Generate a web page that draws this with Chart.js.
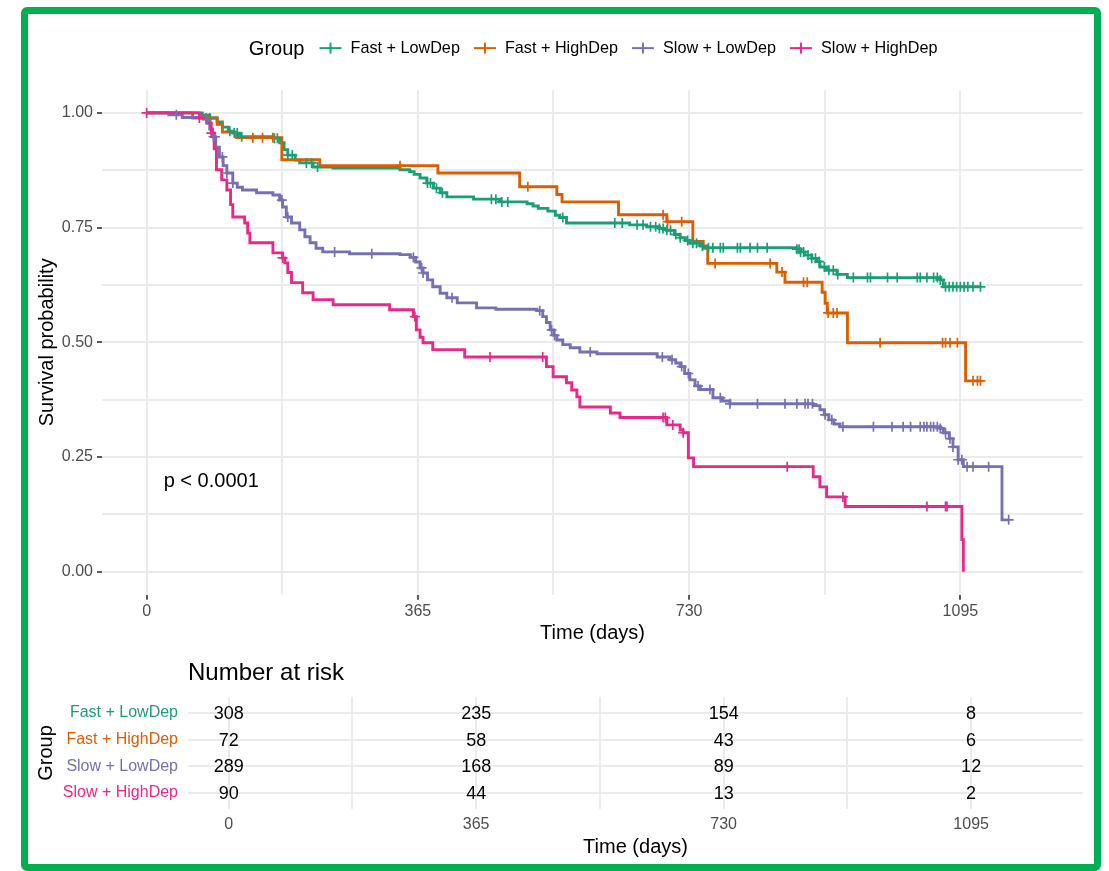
<!DOCTYPE html>
<html>
<head>
<meta charset="utf-8">
<script src="https://cdn.jsdelivr.net/npm/chart.js@4.4.1/dist/chart.umd.min.js"></script>
<style>
html,body{margin:0;padding:0;background:#fff;overflow:hidden;width:1109px;height:871px;}
#frame{position:absolute;left:21px;top:7px;width:1080px;height:864px;box-sizing:border-box;border:7px solid #00B050;border-radius:6px;pointer-events:none;z-index:5;}
#km{position:absolute;left:0;top:0;}
#risk{position:absolute;left:0;top:650px;}
</style>
</head>
<body>
<div id="frame"></div>
<canvas id="km" width="1109" height="650" style="width:1109px;height:650px"></canvas>
<canvas id="risk" width="1109" height="221" style="width:1109px;height:221px"></canvas>
<script>
// ---------------- DATA ----------------
const groups = ['Fast + LowDep', 'Fast + HighDep', 'Slow + LowDep', 'Slow + HighDep'];

const fastLowTime = [0, 75, 85, 95, 102, 110, 116, 125, 170, 179, 185, 190, 200, 206, 224, 251, 341, 354, 360, 368, 377, 386, 395, 404, 440, 475, 512, 520, 527, 540, 550, 556, 565, 650, 673, 690, 700, 710, 718, 725, 731, 745, 754, 875, 880, 886, 895, 902, 906, 915, 929, 943, 1068, 1072, 1122];
const fastLowSurv = [1, 0.995, 0.989, 0.98, 0.969, 0.96, 0.956, 0.948, 0.945, 0.935, 0.92, 0.908, 0.897, 0.891, 0.882, 0.88, 0.876, 0.872, 0.866, 0.858, 0.847, 0.836, 0.826, 0.817, 0.812, 0.806, 0.802, 0.797, 0.792, 0.786, 0.777, 0.772, 0.76, 0.756, 0.752, 0.748, 0.744, 0.735, 0.728, 0.722, 0.716, 0.71, 0.706, 0.703, 0.697, 0.69, 0.683, 0.676, 0.664, 0.657, 0.648, 0.641, 0.636, 0.621, 0.621];
const fastLowCensor = [85, 112, 118, 122, 128, 172, 176, 190, 196, 215, 222, 230, 378, 382, 390, 398, 464, 470, 478, 486, 560, 630, 640, 660, 668, 678, 685, 690, 695, 700, 705, 712, 718, 728, 735, 740, 748, 756, 762, 772, 776, 795, 799, 812, 822, 835, 875, 878, 880, 884, 890, 895, 900, 905, 912, 918, 924, 930, 951, 970, 974, 997, 1010, 1037, 1041, 1050, 1059, 1064, 1068, 1075, 1080, 1085, 1090, 1095, 1100, 1105, 1112, 1122];

const fastHighTime = [0, 62, 95, 102, 121, 182, 233, 392, 502, 552, 559, 635, 700, 735, 749, 755, 848, 859, 909, 913, 916, 943, 1102, 1122];
const fastHighSurv = [1, 0.989, 0.975, 0.958, 0.946, 0.898, 0.885, 0.869, 0.839, 0.822, 0.806, 0.778, 0.763, 0.72, 0.705, 0.672, 0.653, 0.631, 0.609, 0.585, 0.564, 0.499, 0.416, 0.416];
const fastHighCensor = [80, 143, 156, 170, 341, 513, 695, 701, 720, 765, 839, 855, 884, 889, 917, 924, 929, 987, 1071, 1075, 1081, 1091, 1112, 1118, 1122];

const slowLowTime = [0, 30, 48, 81, 85, 89, 93, 98, 103, 108, 116, 122, 129, 148, 170, 179, 183, 188, 195, 206, 213, 220, 228, 237, 273, 341, 355, 362, 368, 372, 378, 385, 395, 404, 418, 444, 470, 525, 533, 538, 543, 548, 552, 560, 570, 583, 606, 687, 704, 712, 718, 724, 731, 738, 745, 762, 775, 785, 897, 906, 912, 918, 925, 933, 1068, 1072, 1080, 1085, 1092, 1099, 1151, 1160];
const slowLowSurv = [1, 0.996, 0.99, 0.985, 0.965, 0.948, 0.925, 0.904, 0.885, 0.869, 0.847, 0.838, 0.832, 0.826, 0.821, 0.81, 0.795, 0.773, 0.76, 0.745, 0.73, 0.717, 0.705, 0.697, 0.693, 0.691, 0.685, 0.675, 0.662, 0.651, 0.636, 0.621, 0.607, 0.597, 0.586, 0.575, 0.572, 0.569, 0.556, 0.543, 0.527, 0.515, 0.505, 0.495, 0.488, 0.479, 0.475, 0.468, 0.462, 0.455, 0.447, 0.432, 0.418, 0.405, 0.397, 0.379, 0.372, 0.366, 0.362, 0.353, 0.342, 0.331, 0.322, 0.316, 0.312, 0.303, 0.29, 0.272, 0.244, 0.229, 0.113, 0.113];
const slowLowCensor = [40, 81, 90, 92, 102, 108, 116, 182, 190, 253, 303, 359, 370, 372, 411, 529, 545, 549, 597, 694, 707, 720, 729, 742, 758, 772, 785, 822, 859, 875, 886, 890, 896, 913, 922, 937, 978, 1003, 1018, 1028, 1041, 1046, 1050, 1055, 1059, 1064, 1068, 1075, 1081, 1085, 1092, 1097, 1104, 1112, 1133, 1160];

const slowHighTime = [0, 71, 81, 87, 91, 94, 101, 108, 113, 116, 132, 136, 139, 170, 183, 186, 190, 195, 210, 224, 251, 327, 359, 363, 368, 372, 385, 428, 538, 547, 565, 572, 579, 583, 624, 637, 700, 718, 722, 729, 736, 897, 906, 915, 940, 1097, 1099];
const slowHighSurv = [1, 0.989, 0.978, 0.956, 0.922, 0.876, 0.854, 0.832, 0.8, 0.773, 0.76, 0.738, 0.717, 0.695, 0.684, 0.673, 0.652, 0.63, 0.608, 0.593, 0.582, 0.571, 0.556, 0.527, 0.511, 0.499, 0.484, 0.468, 0.447, 0.425, 0.412, 0.396, 0.381, 0.359, 0.346, 0.336, 0.32, 0.309, 0.303, 0.248, 0.229, 0.207, 0.185, 0.163, 0.142, 0.07, 0];
const slowHighCensor = [0, 71, 87, 183, 361, 462, 533, 695, 698, 708, 722, 862, 937, 1050, 1075, 1077];

const riskTimes = [0, 365, 730, 1095];
const riskFastLow = [308, 235, 154, 8];
const riskFastHigh = [72, 58, 43, 6];
const riskSlowLow = [289, 168, 89, 12];
const riskSlowHigh = [90, 44, 13, 2];

const xGridTicks = [0, 182.5, 365, 547.5, 730, 912.5, 1095];
const xMajorTicks = [0, 365, 730, 1095];
const yGridTicks = [0, 0.125, 0.25, 0.375, 0.5, 0.625, 0.75, 0.875, 1];
const yMajorTicks = [0, 0.25, 0.5, 0.75, 1];
const yTickLabels = ['0.00', '0.25', '0.50', '0.75', '1.00'];
const pValueText = 'p < 0.0001';

// ---------------- STYLE ----------------
const groupColors = ['#1B9E77', '#D95F02', '#7570B3', '#E7298A'];
const FONT = "'Liberation Sans', Arial, Helvetica, sans-serif";
Chart.defaults.font.family = FONT;
Chart.defaults.color = '#4D4D4D';
const GRID = '#EBEBEB';

const curves = [
  {t: fastLowTime, s: fastLowSurv, c: fastLowCensor},
  {t: fastHighTime, s: fastHighSurv, c: fastHighCensor},
  {t: slowLowTime, s: slowLowSurv, c: slowLowCensor},
  {t: slowHighTime, s: slowHighSurv, c: slowHighCensor}
];
const riskRows = [riskFastLow, riskFastHigh, riskSlowLow, riskSlowHigh];

function survAt(t, s, time) {
  let v = s[0];
  for (let i = 0; i < t.length; i++) { if (t[i] <= time) v = s[i]; else break; }
  return v;
}
function legendIcon(color) {
  const c = document.createElement('canvas');
  c.width = 24; c.height = 14;
  const g = c.getContext('2d');
  g.strokeStyle = color; g.lineWidth = 2;
  g.beginPath(); g.moveTo(1, 7); g.lineTo(23, 7); g.moveTo(12, 1.5); g.lineTo(12, 12.5); g.stroke();
  return c;
}

const datasets = [];
curves.forEach((g, i) => {
  datasets.push({
    type: 'line', label: groups[i], xAxisID: 'x', yAxisID: 'y',
    data: g.t.map((v, k) => ({x: v, y: g.s[k]})),
    stepped: true, borderColor: groupColors[i], borderWidth: 2.9,
    pointRadius: 0, fill: false, tension: 0, order: 10 - i
  });
});
curves.forEach((g, i) => {
  datasets.push({
    type: 'scatter', label: groups[i] + ' (censored)', xAxisID: 'x', yAxisID: 'y',
    data: g.c.map(v => ({x: v, y: survAt(g.t, g.s, v)})),
    showLine: false, pointStyle: 'cross', pointRadius: 5,
    borderColor: groupColors[i], pointBorderColor: groupColors[i],
    pointBorderWidth: 1.7, borderWidth: 1.7, order: 5 - i
  });
});

const LEGEND_CENTER = 628;
const kmPlugin = {
  id: 'kmExtras',
  afterLayout(chart) {
    const lg = chart.legend;
    if (!lg) return;
    const d = LEGEND_CENTER - (lg.left + lg.right) / 2;
    lg.left += d; lg.right += d;
  },
  afterDatasetsDraw(chart) {
    const {ctx, scales: {x, y}} = chart;
    ctx.save();
    ctx.fillStyle = '#000';
    ctx.font = "20px " + FONT;
    ctx.textAlign = 'left'; ctx.textBaseline = 'middle';
    ctx.fillText(pValueText, x.getPixelForValue(23), y.getPixelForValue(0.196));
    ctx.restore();
  },
  afterDraw(chart) {
    const lg = chart.legend;
    if (!lg || !lg.legendHitBoxes || !lg.legendHitBoxes.length) return;
    const hb = lg.legendHitBoxes[0];
    const ctx = chart.ctx;
    ctx.save();
    ctx.fillStyle = '#000';
    ctx.font = "20px " + FONT;
    ctx.textAlign = 'right'; ctx.textBaseline = 'middle';
    ctx.fillText('Group', hb.left - 14, hb.top + hb.height / 2 + 1);
    ctx.restore();
  }
};

new Chart(document.getElementById('km'), {
  type: 'line',
  data: {datasets},
  options: {
    responsive: false, animation: false, devicePixelRatio: 1, events: [],
    layout: {padding: {top: 27, left: 0, right: 26, bottom: 0}},
    plugins: {
      tooltip: {enabled: false},
      title: {display: false},
      legend: {
        display: true, position: 'top', align: 'center',
        labels: {
          usePointStyle: true, pointStyleWidth: 24, padding: 13, color: '#000',
          font: {size: 16.2},
          generateLabels: () => groups.map((g, i) => ({
            text: g, pointStyle: legendIcon(groupColors[i]), fillStyle: groupColors[i],
            strokeStyle: groupColors[i], lineWidth: 0, hidden: false, datasetIndex: i, fontColor: '#000'
          }))
        }
      }
    },
    scales: {
      x: {
        type: 'linear', position: 'bottom', min: -60, max: 1260,
        afterBuildTicks: s => { s.ticks = xGridTicks.map(v => ({value: v})); },
        afterFit: s => { s.height = 55.35; },
        ticks: {autoSkip: false, maxRotation: 0, padding: 2, color: '#4D4D4D', font: {size: 16},
          callback: v => xMajorTicks.includes(v) ? String(v) : ''},
        grid: {color: GRID, lineWidth: 2, drawTicks: true, tickLength: 5, tickWidth: 1.6,
          tickColor: c => (c.tick && xMajorTicks.includes(c.tick.value)) ? '#333333' : 'rgba(0,0,0,0)'},
        border: {display: false},
        title: {display: true, text: 'Time (days)', color: '#000', font: {size: 20}, padding: {top: 0, bottom: 5}}
      },
      y: {
        type: 'linear', position: 'left', min: -0.05, max: 1.05,
        afterBuildTicks: s => { s.ticks = yGridTicks.map(v => ({value: v})); },
        afterFit: s => { s.width = 102; },
        ticks: {autoSkip: false, padding: 4, color: '#4D4D4D', font: {size: 16},
          callback: v => { const i = yMajorTicks.indexOf(v); return i >= 0 ? yTickLabels[i] : ''; }},
        grid: {color: GRID, lineWidth: 2, drawTicks: true, tickLength: 5, tickWidth: 1.6,
          tickColor: c => (c.tick && yMajorTicks.includes(c.tick.value)) ? '#333333' : 'rgba(0,0,0,0)'},
        border: {display: false},
        title: {display: true, text: 'Survival probability', color: '#000', font: {size: 20}, padding: {top: 35, bottom: 0}}
      },
      xTop: {
        type: 'linear', position: 'top', display: true, min: 0, max: 1,
        afterFit: s => { s.height = 23.75; },
        ticks: {display: false}, grid: {display: false, drawTicks: false}, border: {display: false}
      }
    }
  },
  plugins: [kmPlugin]
});

// ---------------- RISK TABLE ----------------
const riskDatasets = riskRows.map((row, i) => ({
  type: 'scatter', label: groups[i],
  data: riskTimes.map((t, j) => ({x: t, y: i + 1, n: row[j]})),
  pointRadius: 0, showLine: false
}));

const riskPlugin = {
  id: 'riskText',
  afterDatasetsDraw(chart) {
    const ctx = chart.ctx;
    ctx.save();
    ctx.fillStyle = '#000';
    ctx.font = "18px " + FONT;
    ctx.textAlign = 'center'; ctx.textBaseline = 'middle';
    chart.data.datasets.forEach((ds, i) => {
      const meta = chart.getDatasetMeta(i);
      meta.data.forEach((pt, j) => { ctx.fillText(String(ds.data[j].n), pt.x, pt.y + 1); });
    });
    ctx.restore();
  }
};

new Chart(document.getElementById('risk'), {
  type: 'scatter',
  data: {datasets: riskDatasets},
  options: {
    responsive: false, animation: false, devicePixelRatio: 1, events: [],
    layout: {padding: {top: 0, left: 0, right: 26, bottom: 0}},
    plugins: {
      tooltip: {enabled: false},
      legend: {display: false},
      title: {display: true, text: 'Number at risk', align: 'start', fullSize: false, color: '#000',
        font: {size: 24, weight: 'normal'}, padding: {top: 8.6, bottom: 9.6}}
    },
    scales: {
      x: {
        type: 'linear', position: 'bottom', min: -60, max: 1260,
        afterBuildTicks: s => { s.ticks = xGridTicks.map(v => ({value: v})); },
        afterFit: s => { s.height = 62; },
        ticks: {autoSkip: false, maxRotation: 0, padding: 6, color: '#4D4D4D', font: {size: 16},
          callback: v => xMajorTicks.includes(v) ? String(v) : ''},
        grid: {color: GRID, lineWidth: 2, drawTicks: false},
        border: {display: false},
        title: {display: true, text: 'Time (days)', color: '#000', font: {size: 20}, padding: {top: 0, bottom: 12}}
      },
      y: {
        type: 'linear', position: 'left', reverse: true, min: 0.4, max: 4.6,
        afterBuildTicks: s => { s.ticks = [1, 2, 3, 4].map(v => ({value: v})); },
        afterFit: s => { s.width = 188; },
        ticks: {autoSkip: false, padding: 10, font: {size: 16},
          color: c => groupColors[(c.tick ? c.tick.value : 1) - 1],
          callback: v => groups[v - 1]},
        grid: {color: GRID, lineWidth: 2, drawTicks: false},
        border: {display: false},
        title: {display: true, text: 'Group', color: '#000', font: {size: 20}, padding: {top: 34, bottom: 0}}
      }
    }
  },
  plugins: [riskPlugin]
});
</script>
</body>
</html>
